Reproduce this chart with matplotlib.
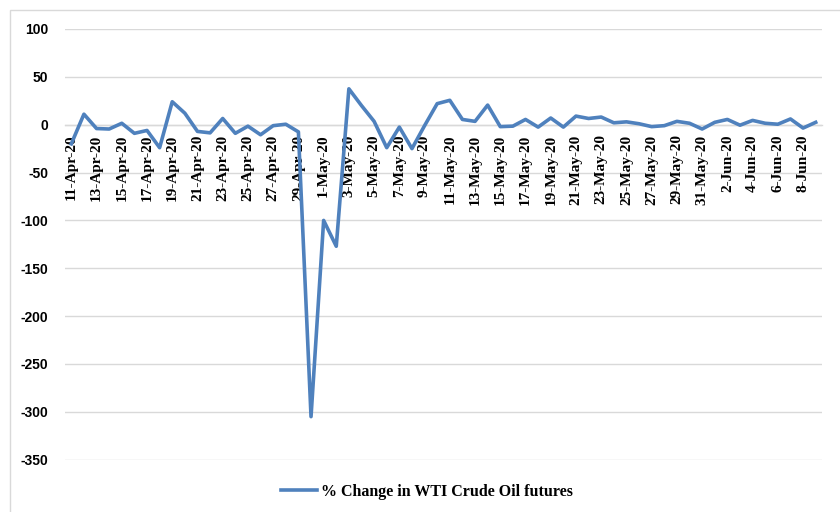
import matplotlib
matplotlib.use("Agg")
import matplotlib.pyplot as plt
from matplotlib.patches import Rectangle
from matplotlib.transforms import ScaledTranslation
import pandas as pd

start_date = "2020-04-11"
n_days = 60
dates = pd.date_range(start_date, periods=n_days, freq="D")
labels = [f"{d.day}-{d.strftime('%b')}-{d.strftime('%y')}" for d in dates]

pct_change = [
    -20, 11, -4, -4.5, 1.5, -9, -6, -24, 24, 12,
    -7, -8.5, 6.5, -9, -1.5, -10.5, -1, 0.5, -7.5, -305,
    -100, -127, 37.5, 20, 3.5, -24, -2.5, -25, -1, 22,
    25.5, 5.5, 3.5, 20.5, -2, -1.5, 5.5, -2.5, 7, -2.5,
    9, 6.5, 8, 2, 3, 1, -2, -1, 3.5, 1.5,
    -4.5, 2.5, 5.5, -0.5, 4.5, 1.5, 0.5, 6, -3.5, 2.5,
]
series_name = "% Change in WTI Crude Oil futures"
y_ticks = [100, 50, 0, -50, -100, -150, -200, -250, -300, -350]

fig = plt.figure(figsize=(8.4, 5.12), dpi=100)
ax = fig.add_axes([65 / 840, 1 - 459.7 / 512, (822 - 65) / 840, (459.7 - 29) / 512])

for s in ["top", "right", "left"]:
    ax.spines[s].set_visible(False)
ax.spines["bottom"].set_position(("data", 0))
ax.spines["bottom"].set_color("#d9d9d9")
ax.spines["bottom"].set_linewidth(1)

x = list(range(n_days))
line, = ax.plot(x, pct_change, color="#4f81bd", lw=2.6, solid_joinstyle="round",
                label=series_name, zorder=3)

ax.set_xlim(-0.5, n_days - 0.5)
ax.set_ylim(-350, 100)
ax.set_yticks(y_ticks)
ax.set_yticklabels([str(v) for v in y_ticks], fontfamily="Liberation Sans",
                   fontweight="bold", fontsize=10)
ax.yaxis.grid(True, color="#d9d9d9", lw=1)
ax.set_axisbelow(True)
ax.tick_params(axis="y", length=0, pad=12)

ax.set_xticks(x[::2])
ax.set_xticklabels([])
ax.tick_params(axis="x", length=0)
offset = ax.transData + ScaledTranslation(0, -7 / 72, fig.dpi_scale_trans)
for xi in x[::2]:
    ax.text(xi, 0, labels[xi], rotation=90, rotation_mode="default",
            ha="center", va="top", transform=offset, clip_on=False,
            fontfamily="Liberation Serif", fontweight="bold", fontsize=11, zorder=2)

fig.legend(handles=[line], loc="center", bbox_to_anchor=(427 / 840, 1 - 492 / 512),
           frameon=False, handlelength=2.2, handletextpad=0.25,
           prop={"family": "Liberation Serif", "weight": "bold", "size": 11.5})

fig.patches.append(Rectangle((10 / 840, -0.1), 1.2, 1.1 - 10 / 512,
                             transform=fig.transFigure, fill=False,
                             edgecolor="#d9d9d9", lw=1))

fig.savefig("out.png", dpi=100)
